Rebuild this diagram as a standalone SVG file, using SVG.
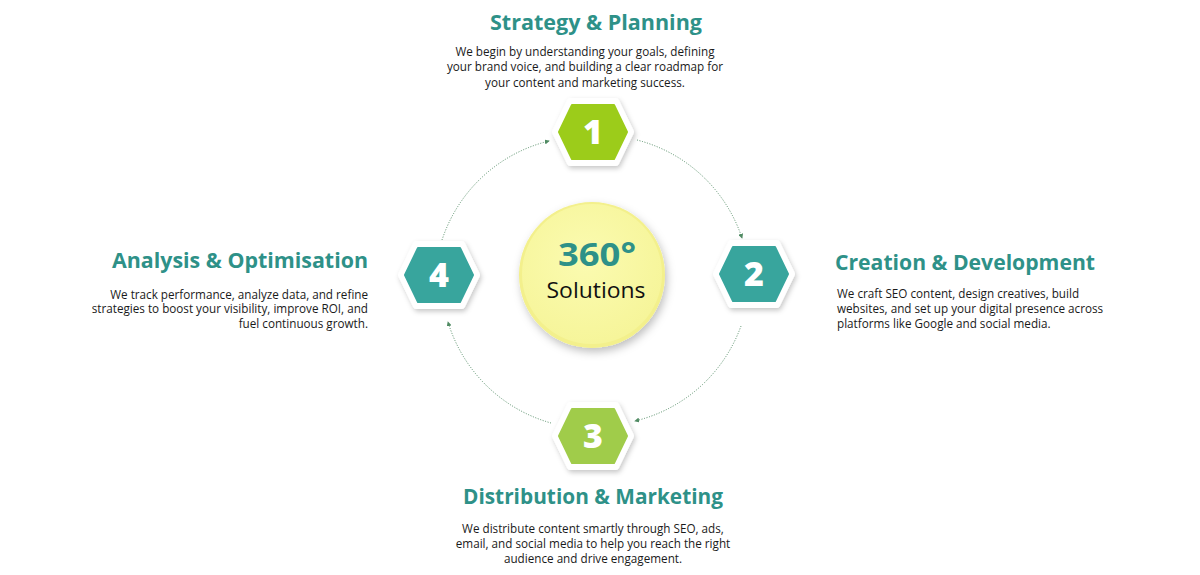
<svg xmlns="http://www.w3.org/2000/svg" width="1200" height="575" viewBox="0 0 1200 575">
<defs>
<style>
.title{font-family:"Open Sans","Liberation Sans",sans-serif;font-weight:700;font-size:20.5px;fill:#2e9188}
.body{font-family:"Open Sans","Liberation Sans",sans-serif;font-size:11.7px;fill:#1a1a1a}
.num{font-family:"Open Sans","Liberation Sans",sans-serif;font-weight:800;font-size:34px;fill:#ffffff;text-anchor:middle}
.conn{fill:none;stroke:#4f8a62;stroke-width:1;stroke-dasharray:1 1.6}
.hexout{fill:#ffffff;stroke:#ffffff;stroke-width:6;stroke-linejoin:round;filter:url(#sh)}
</style>
<filter id="sh" x="-30%" y="-30%" width="160%" height="160%">
<feDropShadow dx="1.5" dy="2.5" stdDeviation="2.5" flood-color="#000000" flood-opacity="0.22"/>
</filter>
<filter id="csh" x="-30%" y="-30%" width="160%" height="160%">
<feDropShadow dx="2" dy="4" stdDeviation="4" flood-color="#000000" flood-opacity="0.25"/>
</filter>
<radialGradient id="cg" cx="45%" cy="40%" r="60%">
<stop offset="0%" stop-color="#fbfbb0"/>
<stop offset="100%" stop-color="#f6f59a"/>
</radialGradient>
<marker id="arr" viewBox="0 0 6 6" refX="5" refY="3" markerWidth="5" markerHeight="5" orient="auto">
<path d="M0,0 L6,3 L0,6 Z" fill="#4f8a62"/>
</marker>
<polygon id="hexO" points="-38,0 -23,-31 23,-31 38,0 23,31 -23,31"/>
<polygon id="hexI" points="-34,0 -21,-27 21,-27 34,0 21,27 -21,27"/>
</defs>
<rect width="1200" height="575" fill="#ffffff"/>

<g id="connectors">
<path class="conn" d="M637,140 A150,150 0 0 1 742,238" marker-end="url(#arr)"/>
<path class="conn" d="M741,326 A150,150 0 0 1 635,421" marker-end="url(#arr)"/>
<path class="conn" d="M551,423 A150,150 0 0 1 448,322" marker-end="url(#arr)"/>
<path class="conn" d="M442,240 A150,150 0 0 1 549,141" marker-end="url(#arr)"/>
</g>

<g id="center">
<circle cx="592" cy="275" r="73" fill="#f3f08c" filter="url(#csh)"/>
<circle cx="592" cy="274" r="70" fill="url(#cg)"/>
<text x="597" y="266" text-anchor="middle" font-family="'Open Sans','Liberation Sans',sans-serif" font-weight="700" font-size="32" fill="#2e9188" textLength="78" lengthAdjust="spacingAndGlyphs">360°</text>
<text x="596" y="298" text-anchor="middle" font-family="'Open Sans','Liberation Sans',sans-serif" font-size="21" fill="#111111" textLength="99" lengthAdjust="spacingAndGlyphs">Solutions</text>
</g>

<g id="step1">
<use href="#hexO" x="593" y="132" class="hexout"/>
<use href="#hexI" x="593" y="132" fill="#9ccc1a" stroke="#9ccc1a" stroke-width="2" stroke-linejoin="round"/>
<text class="num" x="593" y="144">1</text>
<text class="title" x="596" y="30" text-anchor="middle" textLength="212" lengthAdjust="spacingAndGlyphs">Strategy &amp; Planning</text>
<text class="body" x="585" y="56" text-anchor="middle">We begin by understanding your goals, defining</text>
<text class="body" x="585" y="71" text-anchor="middle">your brand voice, and building a clear roadmap for</text>
<text class="body" x="585" y="87" text-anchor="middle">your content and marketing success.</text>
</g>

<g id="step2">
<use href="#hexO" x="754" y="274" class="hexout"/>
<use href="#hexI" x="754" y="274" fill="#38a59d" stroke="#38a59d" stroke-width="2" stroke-linejoin="round"/>
<text class="num" x="754" y="286">2</text>
<text class="title" x="835" y="270" textLength="260" lengthAdjust="spacingAndGlyphs">Creation &amp; Development</text>
<text class="body" x="837" y="298">We craft SEO content, design creatives, build</text>
<text class="body" x="837" y="313">websites, and set up your digital presence across</text>
<text class="body" x="837" y="328">platforms like Google and social media.</text>
</g>

<g id="step3">
<use href="#hexO" x="593" y="436" class="hexout"/>
<use href="#hexI" x="593" y="436" fill="#a0cc4a" stroke="#a0cc4a" stroke-width="2" stroke-linejoin="round"/>
<text class="num" x="593" y="448">3</text>
<text class="title" x="593" y="504" text-anchor="middle" textLength="260" lengthAdjust="spacingAndGlyphs">Distribution &amp; Marketing</text>
<text class="body" x="593" y="533" text-anchor="middle">We distribute content smartly through SEO, ads,</text>
<text class="body" x="593" y="548" text-anchor="middle">email, and social media to help you reach the right</text>
<text class="body" x="593" y="563" text-anchor="middle">audience and drive engagement.</text>
</g>

<g id="step4">
<use href="#hexO" x="439" y="275" class="hexout"/>
<use href="#hexI" x="439" y="275" fill="#38a59d" stroke="#38a59d" stroke-width="2" stroke-linejoin="round"/>
<text class="num" x="439" y="287">4</text>
<text class="title" x="368" y="268" text-anchor="end" textLength="256" lengthAdjust="spacingAndGlyphs">Analysis &amp; Optimisation</text>
<text class="body" x="368" y="299" text-anchor="end">We track performance, analyze data, and refine</text>
<text class="body" x="368" y="313" text-anchor="end">strategies to boost your visibility, improve ROI, and</text>
<text class="body" x="368" y="328" text-anchor="end">fuel continuous growth.</text>
</g>
</svg>
